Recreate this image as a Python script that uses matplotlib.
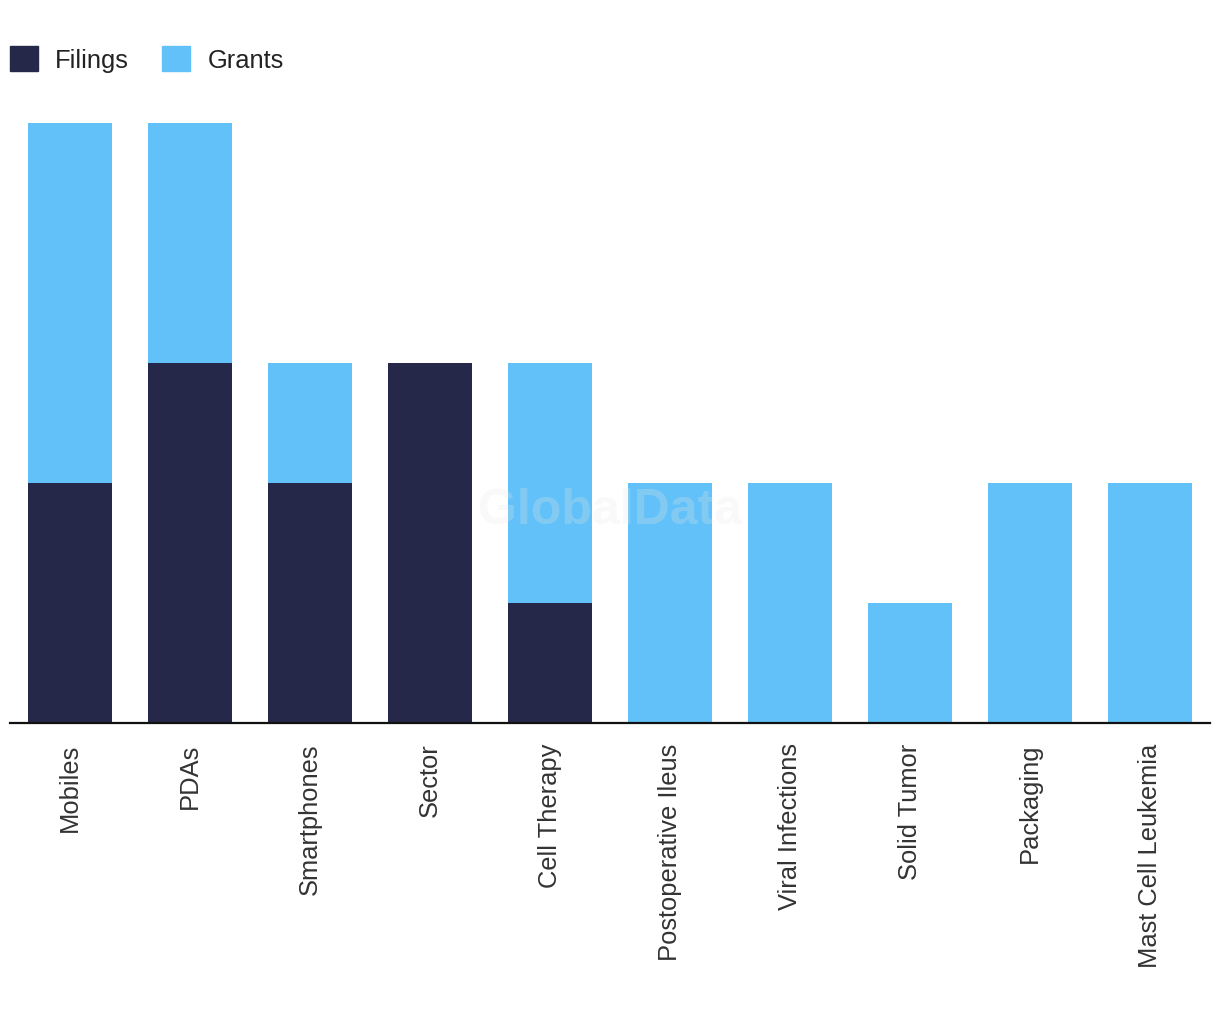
import matplotlib.pyplot as plt
from matplotlib.patches import Patch

categories = ["Mobiles", "PDAs", "Smartphones", "Sector", "Cell Therapy",
              "Postoperative Ileus", "Viral Infections", "Solid Tumor",
              "Packaging", "Mast Cell Leukemia"]
filings = [2, 3, 2, 3, 1, 0, 0, 0, 0, 0]
grants = [3, 2, 1, 0, 2, 2, 2, 1, 2, 2]

DARK = "#262849"
LIGHT = "#62c1f8"

plt.rcParams['font.family'] = ['Liberation Sans', 'DejaVu Sans']

fig = plt.figure(figsize=(12.2, 10.2), dpi=100)
# axes placed in pixel terms: x 10..1210, y 124..724
ax = fig.add_axes([10 / 1220, 1 - 724 / 1020, 1200 / 1220, 600 / 1020])

x = range(len(categories))
ax.bar(x, filings, width=0.7, color=DARK)
ax.bar(x, grants, width=0.7, bottom=filings, color=LIGHT)

ax.set_xlim(-0.5, len(categories) - 0.5)
ax.set_ylim(0, 5)
ax.set_xticks(list(x))
ax.set_xticklabels(categories, rotation=90, fontsize=18.4, color="#333333")
ax.tick_params(axis="x", length=0, pad=14)
ax.set_yticks([])
for s in ["top", "left", "right"]:
    ax.spines[s].set_visible(False)
ax.spines["bottom"].set_linewidth(1.6)
ax.spines["bottom"].set_color("#111111")

# watermark
ax.text(0.5, 0.355, "GlobalData", transform=ax.transAxes, ha="center", va="center",
        fontsize=36, fontweight="bold", color="#e8e8e8", alpha=0.25, zorder=5)

handles = [Patch(color=DARK, label="Filings"), Patch(color=LIGHT, label="Grants")]
fig.legend(handles=handles, loc="center left", bbox_to_anchor=(10 / 1220, 1 - 60 / 1020),
           ncol=2, frameon=False, fontsize=18.4, handlelength=1.1, handleheight=1.1,
           handletextpad=0.67, columnspacing=1.3, borderpad=0, borderaxespad=0,
           labelcolor="#222222")

fig.savefig("out.png", dpi=100, facecolor="white")
